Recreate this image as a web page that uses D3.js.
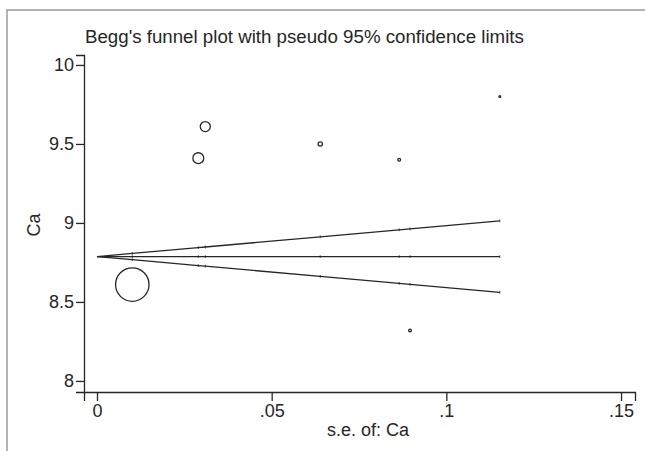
<!DOCTYPE html>
<html>
<head>
<meta charset="utf-8">
<script src="https://cdn.jsdelivr.net/npm/d3@7"></script>
<style>
    html, body { margin: 0; padding: 0; background: #fff; }
    svg { display: block; font-family: 'Liberation Sans', Arial, sans-serif; }
</style>
</head>
<body>
<svg id="funnel" width="645" height="451"></svg>
<script>
// Study data
const studySe = [0.0101, 0.029, 0.031, 0.0639, 0.0865, 0.0896, 0.1153];
const studyEst = [8.61, 9.41, 9.61, 9.5, 9.4, 8.32, 9.8];
// Pooled (fixed) estimate at the funnel apex
const pooled = 8.787;
const z95 = 1.96;

const xTicks = [0, 0.05, 0.1, 0.15];
const yTicks = [8, 8.5, 9, 9.5, 10];

const titleText = "Begg's funnel plot with pseudo 95% confidence limits";
const xTitle = 's.e. of: Ca';
const yTitle = 'Ca';

const ink = '#262626';

function fmtX(t) {
    return t === 0 ? '0' : String(t).replace(/^0/, '');
}

function drawFunnel(svg) {
    svg.selectAll('*').remove();

    // outer frame (only left and top show in the crop)
    svg.append('rect')
        .attr('x', 7).attr('y', 10)
        .attr('width', 660).attr('height', 470)
        .attr('fill', 'none')
        .attr('stroke', '#9a9a9a')
        .attr('stroke-width', 1.5);

    const xScale = d3.scaleLinear().domain([-0.00372, 0.154]).range([84, 635]);
    const yScale = d3.scaleLinear().domain([7.93, 10.063]).range([392, 55]);

    // x axis
    const xAxis = d3.axisBottom(xScale)
        .tickValues(xTicks)
        .tickFormat(fmtX)
        .tickSizeOuter(0)
        .tickSize(9)
        .tickPadding(3);
    const gx = svg.append('g').attr('transform', `translate(0, ${yScale.range()[0]})`).call(xAxis);

    // y axis
    const yAxis = d3.axisLeft(yScale)
        .tickValues(yTicks)
        .tickFormat(d3.format('~g'))
        .tickSizeOuter(0)
        .tickSize(8)
        .tickPadding(2);
    const gy = svg.append('g').attr('transform', `translate(${xScale.range()[0]}, 0)`).call(yAxis);

    [gx, gy].forEach((g) => {
        g.selectAll('path, line').attr('stroke', ink).attr('stroke-width', 1.3);
        g.selectAll('text').attr('fill', ink).style('font-size', '18px');
    });

    // funnel lines: vertices at 0 and every study s.e.
    const seSorted = [0, ...studySe.slice().sort(d3.ascending)];
    const lines = [
        (s) => pooled + z95 * s,
        (s) => pooled,
        (s) => pooled - z95 * s
    ];
    const lineGen = (fn) => d3.line().x((s) => xScale(s)).y((s) => yScale(fn(s)))(seSorted);
    svg.selectAll('.funnel')
        .data(lines)
        .join('path')
        .attr('class', 'funnel')
        .attr('fill', 'none')
        .attr('stroke', ink)
        .attr('stroke-width', 1.3)
        .attr('d', (fn) => lineGen(fn));

    // faint joints on the lines
    const joints = [];
    studySe.forEach((s) => lines.forEach((fn) => joints.push([s, fn(s)])));
    svg.selectAll('.joint')
        .data(joints)
        .join('line')
        .attr('class', 'joint')
        .attr('x1', (d) => xScale(d[0])).attr('x2', (d) => xScale(d[0]))
        .attr('y1', (d) => yScale(d[1]) - 1.4).attr('y2', (d) => yScale(d[1]) + 1.4)
        .attr('stroke', ink)
        .attr('stroke-width', 0.8);

    // study markers, area proportional to weight 1/se^2
    const rScale = (s) => 0.175 / s;
    svg.selectAll('.study')
        .data(studySe.map((s, i) => ({ se: s, est: studyEst[i] })))
        .join('circle')
        .attr('class', 'study')
        .attr('cx', (d) => xScale(d.se))
        .attr('cy', (d) => yScale(d.est))
        .attr('r', (d) => Math.max(rScale(d.se) - 0.6, 0.9))
        .attr('fill', 'none')
        .attr('stroke', ink)
        .attr('stroke-width', 1.3);

    // titles
    svg.append('text')
        .attr('x', 85).attr('y', 43)
        .attr('fill', ink)
        .style('font-size', '18.7px')
        .text(titleText);

    svg.append('text')
        .attr('x', 368).attr('y', 436)
        .attr('text-anchor', 'middle')
        .attr('fill', ink)
        .style('font-size', '18px')
        .text(xTitle);

    svg.append('text')
        .attr('transform', 'translate(40, 225) rotate(-90)')
        .attr('text-anchor', 'middle')
        .attr('fill', ink)
        .style('font-size', '18px')
        .text(yTitle);
}

window.addEventListener('DOMContentLoaded', () => {
    drawFunnel(d3.select('#funnel'));
});
</script>
</body>
</html>
